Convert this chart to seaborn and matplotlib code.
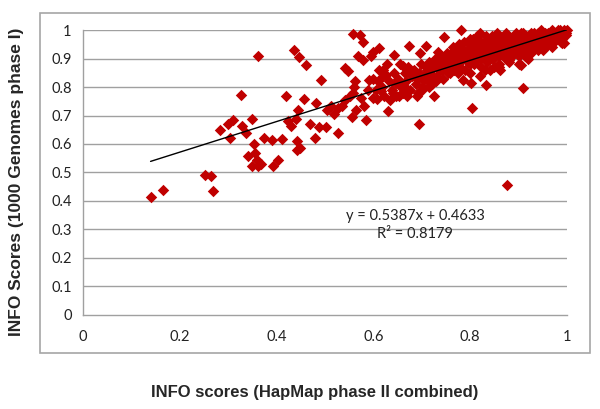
import matplotlib
matplotlib.use("Agg")
import matplotlib.pyplot as plt
import seaborn as sns
import pandas as pd
from matplotlib.patches import Rectangle

# ---- data ----
sparse_x = [0.140, 0.165, 0.253, 0.264, 0.268, 0.283, 0.299, 0.310, 0.304, 0.326,
            0.329, 0.338, 0.341, 0.349, 0.349, 0.353, 0.356, 0.359, 0.362, 0.367,
            0.361, 0.375, 0.391, 0.392, 0.403, 0.411, 0.420, 0.424, 0.430, 0.437,
            0.440, 0.442, 0.442, 0.448, 0.446, 0.445, 0.456, 0.461, 0.469, 0.480,
            0.482, 0.488, 0.491, 0.502, 0.505, 0.513, 0.519, 0.527, 0.527, 0.535,
            0.541, 0.542, 0.547, 0.551, 0.555, 0.558, 0.559, 0.564, 0.562, 0.569,
            0.572, 0.578, 0.579, 0.581, 0.585, 0.591, 0.595, 0.599, 0.611, 0.607,
            0.615, 0.619, 0.627, 0.631, 0.635, 0.643, 0.647, 0.654, 0.662, 0.670,
            0.674, 0.682, 0.690, 0.694, 0.696, 0.702, 0.709, 0.714, 0.726, 0.730,
            0.734, 0.742, 0.746, 0.758, 0.774, 0.782, 0.786, 0.804, 0.801, 0.833,
            0.861, 0.877, 0.881, 0.905, 0.909, 0.994]
sparse_y = [0.414, 0.439, 0.492, 0.489, 0.436, 0.648, 0.671, 0.683, 0.620, 0.771,
            0.662, 0.639, 0.559, 0.689, 0.522, 0.601, 0.568, 0.545, 0.522, 0.531,
            0.911, 0.622, 0.615, 0.522, 0.543, 0.616, 0.770, 0.680, 0.662, 0.929,
            0.688, 0.609, 0.578, 0.586, 0.905, 0.718, 0.758, 0.878, 0.671, 0.621,
            0.743, 0.660, 0.826, 0.660, 0.720, 0.732, 0.706, 0.639, 0.726, 0.732,
            0.756, 0.868, 0.857, 0.767, 0.695, 0.781, 0.986, 0.718, 0.820, 0.908,
            0.982, 0.960, 0.896, 0.732, 0.685, 0.826, 0.908, 0.925, 0.937, 0.758,
            0.785, 0.861, 0.843, 0.715, 0.756, 0.913, 0.814, 0.767, 0.873, 0.793,
            0.945, 0.855, 0.767, 0.671, 0.919, 0.826, 0.943, 0.802, 0.767, 0.823,
            0.925, 0.861, 0.978, 0.851, 0.849, 1.000, 0.826, 0.726, 0.816, 0.808,
            0.861, 0.457, 0.896, 0.878, 0.797, 0.954]

dense_x = [0.600, 0.605, 0.612, 0.618, 0.622, 0.628, 0.633, 0.638, 0.642, 0.646,
           0.650, 0.655, 0.658, 0.662, 0.665, 0.668, 0.672, 0.676, 0.680, 0.684,
           0.688, 0.692, 0.695, 0.698, 0.702, 0.705, 0.708, 0.712, 0.715, 0.718,
           0.722, 0.725, 0.728, 0.731, 0.734, 0.737, 0.740, 0.743, 0.746, 0.749,
           0.752, 0.755, 0.758, 0.761, 0.764, 0.767, 0.770, 0.773, 0.776, 0.779,
           0.782, 0.785, 0.788, 0.790, 0.793, 0.796, 0.799, 0.802, 0.805, 0.808,
           0.811, 0.814, 0.817, 0.820, 0.823, 0.826, 0.829, 0.832, 0.835, 0.838,
           0.841, 0.844, 0.847, 0.850, 0.853, 0.856, 0.859, 0.862, 0.865, 0.868,
           0.871, 0.874, 0.877, 0.880, 0.883, 0.886, 0.889, 0.892, 0.895, 0.898,
           0.901, 0.904, 0.907, 0.910, 0.913, 0.916, 0.919, 0.922, 0.925, 0.928,
           0.931, 0.934, 0.937, 0.940, 0.943, 0.946, 0.949, 0.952, 0.955, 0.958,
           0.961, 0.964, 0.967, 0.970, 0.973, 0.976, 0.979, 0.982, 0.985, 0.988,
           0.991, 0.994, 0.997, 1.000,
           0.780, 0.790, 0.800, 0.810, 0.815, 0.825, 0.830, 0.840, 0.845, 0.855,
           0.860, 0.870, 0.875, 0.880, 0.885, 0.890, 0.895, 0.900, 0.905, 0.910,
           0.915, 0.920, 0.925, 0.930, 0.935, 0.940, 0.945, 0.950, 0.955, 0.960,
           0.965, 0.970, 0.975, 0.980, 0.985, 0.990, 0.760, 0.750, 0.770, 0.800,
           0.820, 0.850, 0.880, 0.900, 0.930, 0.960,
           0.800, 0.820, 0.840, 0.860, 0.880, 0.900, 0.920, 0.950, 0.970, 0.990,
           0.850, 0.830,
           0.560, 0.575, 0.590, 0.600, 0.610, 0.620, 0.640, 0.660, 0.670, 0.690,
           0.700, 0.710, 0.720, 0.730,
           0.785, 0.795, 0.805, 0.812, 0.818, 0.822, 0.828, 0.836, 0.842, 0.848,
           0.852, 0.858, 0.864, 0.869, 0.873, 0.878, 0.884, 0.888, 0.893, 0.897,
           0.903, 0.908, 0.912, 0.918, 0.923, 0.927, 0.933, 0.938, 0.942, 0.948,
           0.953, 0.957, 0.963, 0.968, 0.972, 0.978, 0.983, 0.987, 0.993, 0.998,
           0.805, 0.815, 0.835, 0.845, 0.865, 0.875, 0.895, 0.915, 0.935, 0.945,
           0.765, 0.775, 0.745, 0.735, 0.755]
dense_y = [0.830, 0.790, 0.860, 0.800, 0.770, 0.880, 0.820, 0.790, 0.850, 0.770,
           0.830, 0.880, 0.800, 0.780, 0.850, 0.820, 0.870, 0.790, 0.840, 0.860,
           0.810, 0.780, 0.850, 0.880, 0.800, 0.840, 0.870, 0.820, 0.890, 0.850,
           0.810, 0.870, 0.900, 0.840, 0.880, 0.860, 0.910, 0.830, 0.890, 0.870,
           0.920, 0.850, 0.900, 0.880, 0.940, 0.860, 0.910, 0.890, 0.950, 0.870,
           0.920, 0.900, 0.960, 0.860, 0.930, 0.890, 0.970, 0.910, 0.940, 0.880,
           0.960, 0.900, 0.930, 0.990, 0.870, 0.950, 0.910, 0.980, 0.890, 0.940,
           0.920, 0.970, 0.900, 0.950, 0.930, 0.990, 0.880, 0.960, 0.920, 0.940,
           0.980, 0.900, 0.950, 0.930, 0.970, 0.910, 0.960, 0.940, 0.990, 0.920,
           0.950, 0.970, 0.930, 0.990, 0.910, 0.960, 0.940, 0.980, 0.920, 0.950,
           0.990, 0.940, 0.970, 0.930, 0.960, 1.000, 0.950, 0.980, 0.940, 0.970,
           0.990, 0.950, 0.980, 1.000, 0.960, 0.990, 0.970, 1.000, 0.980, 0.960,
           0.990, 1.000, 0.985, 1.000,
           0.940, 0.910, 0.950, 0.920, 0.980, 0.930, 0.960, 0.900, 0.950, 0.970,
           0.910, 0.960, 0.990, 0.950, 0.940, 0.980, 0.960, 0.930, 0.990, 0.950,
           0.980, 0.960, 0.990, 0.970, 0.950, 0.990, 0.970, 0.960, 0.990, 0.980,
           0.970, 0.990, 0.980, 0.990, 1.000, 0.970, 0.920, 0.880, 0.870, 0.880,
           0.900, 0.910, 0.920, 0.910, 0.930, 0.950,
           0.850, 0.840, 0.860, 0.870, 0.890, 0.880, 0.900, 0.930, 0.940, 0.955,
           0.870, 0.860,
           0.800, 0.760, 0.790, 0.760, 0.820, 0.840, 0.780, 0.810, 0.770, 0.830,
           0.790, 0.860, 0.830, 0.870,
           0.900, 0.930, 0.890, 0.940, 0.910, 0.960, 0.920, 0.950, 0.930, 0.960,
           0.940, 0.920, 0.970, 0.930, 0.960, 0.940, 0.950, 0.970, 0.930, 0.960,
           0.980, 0.950, 0.970, 0.950, 0.970, 0.960, 0.980, 0.960, 0.980, 0.970,
           0.975, 0.965, 0.985, 0.975, 0.990, 0.985, 0.975, 0.990, 0.995, 0.990,
           0.970, 0.950, 0.950, 0.980, 0.940, 0.975, 0.945, 0.935, 0.985, 0.950,
           0.900, 0.930, 0.900, 0.890, 0.860]

slope = 0.5387
intercept = 0.4633
eq_text = "y = 0.5387x + 0.4633"
r2_text = "R² = 0.8179"
x_label = "INFO scores (HapMap phase II combined)"
y_label = "INFO Scores (1000 Genomes phase I)"
x_ticks = [0, 0.2, 0.4, 0.6, 0.8, 1]
y_ticks = [0, 0.1, 0.2, 0.3, 0.4, 0.5, 0.6, 0.7, 0.8, 0.9, 1]
x_ticklabels = ["0", "0.2", "0.4", "0.6", "0.8", "1"]
y_ticklabels = ["0", "0.1", "0.2", "0.3", "0.4", "0.5", "0.6", "0.7", "0.8", "0.9", "1"]

df = pd.DataFrame({"x": sparse_x + dense_x, "y": sparse_y + dense_y})
xmin, xmax = min(df["x"]), max(df["x"])
trend = pd.DataFrame({"x": [xmin, xmax], "y": [slope * xmin + intercept, slope * xmax + intercept]})

# ---- style ----
sns.set_style("white")
plt.rcParams["font.family"] = ["Lato", "DejaVu Sans"]

fig = plt.figure(figsize=(6.0, 4.09), dpi=100)
ax = fig.add_axes([0.138, 0.231, 0.807, 0.695])

# outer chart border
fig.patches.append(Rectangle((0.067, 0.137), 0.916, 0.831, transform=fig.transFigure,
                             fill=False, edgecolor="#A6A6A6", linewidth=1.2))

grid_c = "#A0A0A0"
for yv in y_ticks[1:]:
    ax.axhline(yv, color=grid_c, lw=1.0, zorder=0)

sns.scatterplot(data=df, x="x", y="y", marker="D", color="#C00000", s=34,
                linewidth=0, ax=ax, zorder=3, clip_on=False)
sns.lineplot(data=trend, x="x", y="y", color="black", lw=1.0, ax=ax, zorder=4)

ax.set_xlim(0, 1)
ax.set_ylim(0, 1)
ax.set_xticks(x_ticks)
ax.set_xticklabels(x_ticklabels)
ax.set_yticks(y_ticks)
ax.set_yticklabels(y_ticklabels)
ax.tick_params(axis="both", labelsize=10.5, colors="#222222", length=4, width=1,
               direction="out")
ax.tick_params(axis="x", pad=7, color=grid_c)
ax.tick_params(axis="y", pad=4, color=grid_c)

for side in ["top", "right"]:
    ax.spines[side].set_visible(False)
for side in ["left", "bottom"]:
    ax.spines[side].set_color(grid_c)
    ax.spines[side].set_linewidth(1.0)

ax.set_xlabel("")
ax.set_ylabel("")
fig.text(0.525, 0.040, x_label, ha="center", va="center", fontsize=12,
         fontweight="bold", family=["Liberation Sans", "DejaVu Sans"])
fig.text(0.028, 0.555, y_label, ha="center", va="center", rotation=90, fontsize=12.5,
         fontweight="bold", family=["Liberation Sans", "DejaVu Sans"])

ax.text(0.686, 0.346, eq_text, ha="center", va="center", fontsize=10.5, color="#222222")
ax.text(0.686, 0.282, r2_text, ha="center", va="center", fontsize=10.5, color="#222222")

fig.savefig("out.png", dpi=100, facecolor="white")
